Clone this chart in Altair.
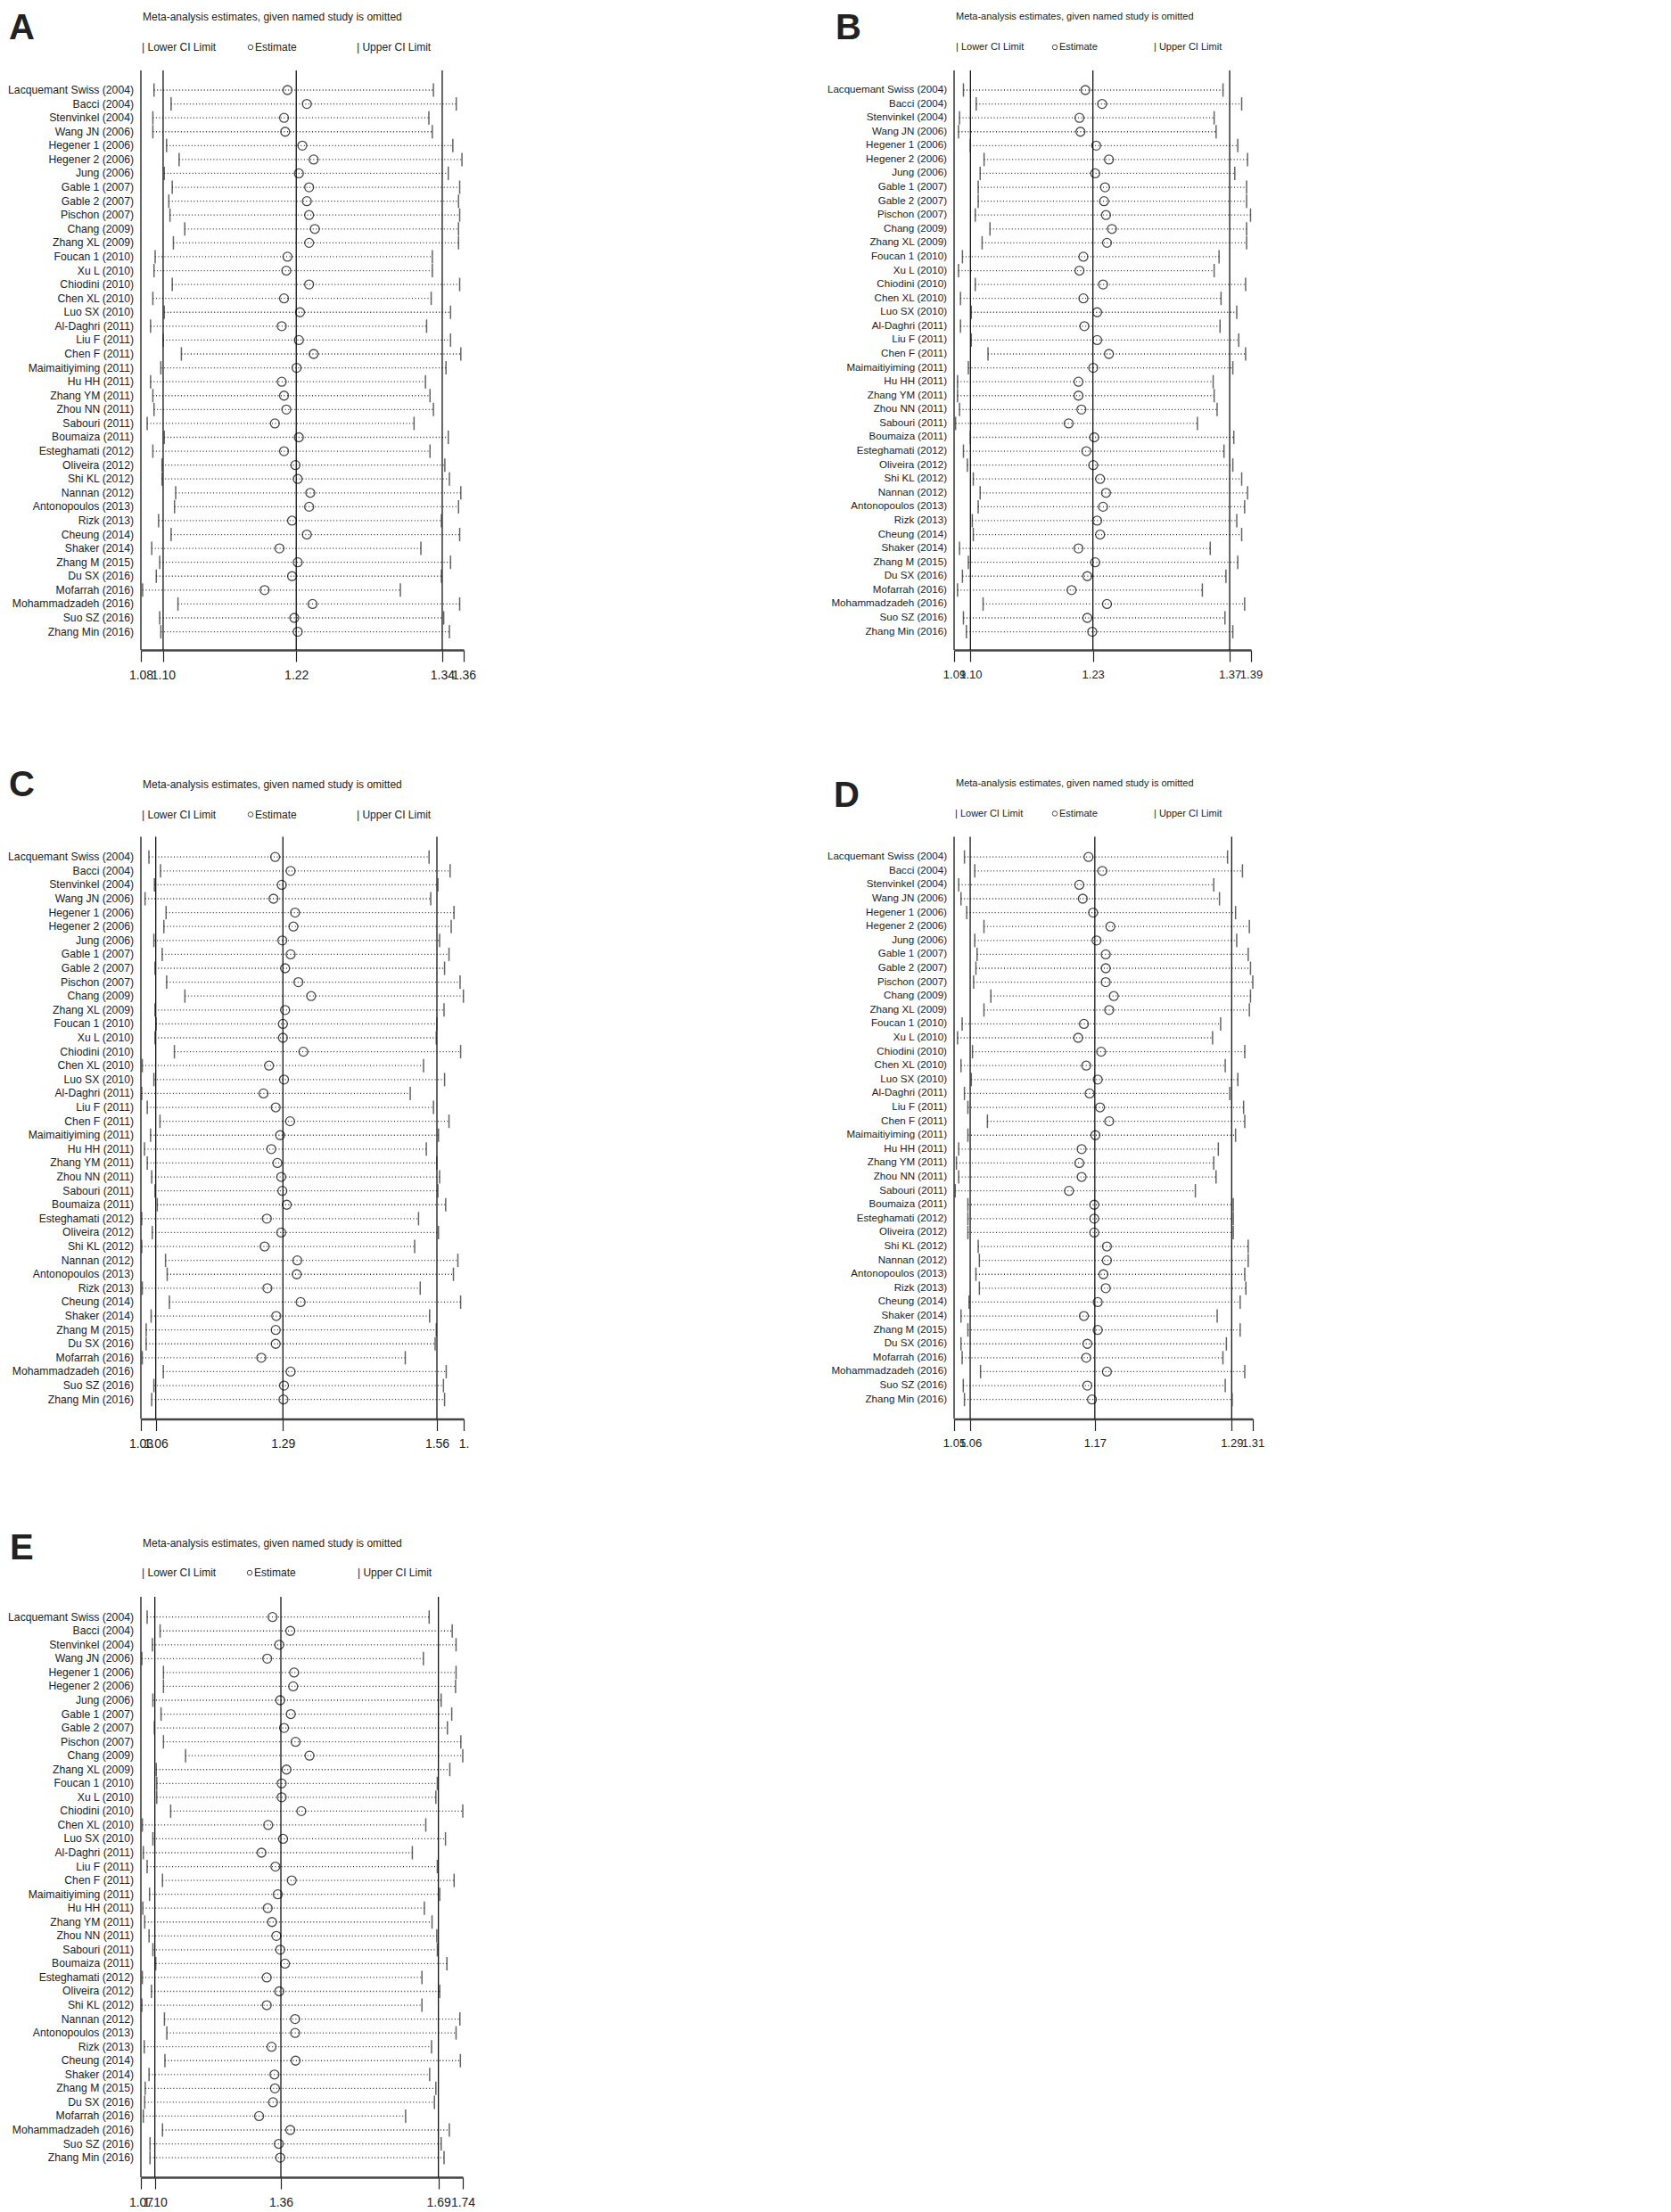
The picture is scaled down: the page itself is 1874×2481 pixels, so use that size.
import altair as alt
import pandas as pd

studies = ["Lacquemant Swiss (2004)", "Bacci (2004)", "Stenvinkel (2004)", "Wang JN (2006)",
           "Hegener 1 (2006)", "Hegener 2 (2006)", "Jung (2006)", "Gable 1 (2007)", "Gable 2 (2007)",
           "Pischon (2007)", "Chang (2009)", "Zhang XL (2009)", "Foucan 1 (2010)", "Xu L (2010)",
           "Chiodini (2010)", "Chen XL (2010)", "Luo SX (2010)", "Al-Daghri (2011)", "Liu F (2011)",
           "Chen F (2011)", "Maimaitiyiming (2011)", "Hu HH (2011)", "Zhang YM (2011)", "Zhou NN (2011)",
           "Sabouri (2011)", "Boumaiza (2011)", "Esteghamati (2012)", "Oliveira (2012)", "Shi KL (2012)",
           "Nannan (2012)", "Antonopoulos (2013)", "Rizk (2013)", "Cheung (2014)", "Shaker (2014)",
           "Zhang M (2015)", "Du SX (2016)", "Mofarrah (2016)", "Mohammadzadeh (2016)", "Suo SZ (2016)",
           "Zhang Min (2016)"]

# Panel A
A_lower = [1.091,1.106,1.090,1.090,1.102,1.113,1.100,1.107,1.104,1.105,1.118,1.108,1.092,1.091,1.107,1.090,1.100,1.088,1.099,1.115,
           1.097,1.088,1.090,1.091,1.085,1.100,1.090,1.098,1.098,1.110,1.109,1.095,1.106,1.089,1.096,1.093,1.081,1.112,1.096,1.097]
A_est = [1.208,1.225,1.205,1.206,1.221,1.231,1.218,1.227,1.225,1.227,1.232,1.227,1.208,1.207,1.227,1.205,1.219,1.203,1.218,1.231,
         1.216,1.203,1.205,1.207,1.197,1.218,1.205,1.215,1.217,1.228,1.227,1.212,1.225,1.201,1.217,1.212,1.188,1.230,1.214,1.217]
A_upper = [1.336,1.356,1.332,1.335,1.353,1.361,1.349,1.359,1.358,1.359,1.358,1.358,1.335,1.335,1.359,1.334,1.351,1.330,1.351,1.360,
           1.347,1.329,1.333,1.336,1.319,1.349,1.333,1.346,1.350,1.360,1.358,1.343,1.359,1.325,1.351,1.343,1.307,1.359,1.345,1.350]
A_axis = [1.0795, 1.0990, 1.2157, 1.3437, 1.3625]

# Panel B
B_lower = [1.095,1.108,1.091,1.090,1.102,1.116,1.112,1.110,1.110,1.107,1.122,1.114,1.094,1.090,1.107,1.092,1.103,1.092,1.103,1.120,
           1.100,1.089,1.089,1.091,1.087,1.102,1.095,1.099,1.105,1.112,1.110,1.104,1.105,1.091,1.100,1.094,1.089,1.115,1.095,1.098]
B_est = [1.219,1.236,1.213,1.214,1.230,1.243,1.229,1.239,1.238,1.240,1.246,1.241,1.217,1.213,1.237,1.217,1.231,1.218,1.231,1.243,
         1.227,1.212,1.212,1.215,1.202,1.228,1.220,1.227,1.234,1.240,1.237,1.231,1.234,1.212,1.229,1.221,1.205,1.241,1.221,1.226]
B_upper = [1.359,1.378,1.350,1.352,1.374,1.384,1.371,1.383,1.383,1.387,1.383,1.383,1.355,1.350,1.382,1.357,1.373,1.356,1.375,1.382,
           1.369,1.349,1.350,1.353,1.333,1.370,1.360,1.369,1.378,1.384,1.381,1.373,1.378,1.346,1.374,1.362,1.338,1.381,1.361,1.369]
B_axis = [1.0855, 1.1021, 1.2267, 1.3658, 1.3875]

# Panel C
C_lower = [1.044,1.065,1.054,1.037,1.075,1.071,1.053,1.068,1.055,1.076,1.109,1.055,1.057,1.055,1.090,1.032,1.053,1.031,1.041,1.064,
           1.047,1.036,1.041,1.049,1.055,1.059,1.031,1.050,1.031,1.074,1.077,1.032,1.081,1.048,1.039,1.039,1.032,1.070,1.053,1.049]
C_est = [1.272,1.300,1.284,1.269,1.308,1.305,1.285,1.300,1.290,1.314,1.337,1.290,1.286,1.286,1.323,1.261,1.288,1.251,1.273,1.299,
         1.281,1.265,1.276,1.283,1.285,1.293,1.257,1.283,1.253,1.312,1.311,1.258,1.318,1.274,1.273,1.273,1.247,1.300,1.288,1.287]
C_upper = [1.550,1.588,1.566,1.553,1.595,1.590,1.569,1.586,1.578,1.606,1.612,1.577,1.564,1.563,1.607,1.540,1.578,1.516,1.558,1.586,
           1.567,1.545,1.564,1.569,1.566,1.580,1.531,1.567,1.524,1.602,1.594,1.534,1.607,1.551,1.563,1.561,1.507,1.581,1.576,1.578]
C_axis = [1.0295, 1.0564, 1.2860, 1.5642, 1.6125]

# Panel D
D_lower = [1.059,1.068,1.054,1.056,1.061,1.076,1.068,1.070,1.069,1.067,1.082,1.076,1.057,1.053,1.066,1.056,1.065,1.059,1.062,1.079,
           1.062,1.054,1.052,1.054,1.051,1.062,1.062,1.062,1.071,1.072,1.069,1.072,1.063,1.056,1.062,1.056,1.057,1.073,1.058,1.059]
D_est = [1.167,1.179,1.159,1.162,1.171,1.186,1.174,1.182,1.182,1.182,1.189,1.185,1.163,1.158,1.178,1.165,1.175,1.168,1.177,1.185,
         1.173,1.161,1.159,1.161,1.150,1.172,1.172,1.172,1.183,1.183,1.180,1.182,1.175,1.163,1.175,1.166,1.165,1.183,1.166,1.170]
D_upper = [1.288,1.301,1.276,1.281,1.295,1.307,1.296,1.306,1.308,1.310,1.308,1.307,1.282,1.275,1.303,1.286,1.297,1.290,1.302,1.303,
           1.295,1.280,1.276,1.278,1.260,1.293,1.293,1.293,1.306,1.306,1.303,1.304,1.299,1.279,1.299,1.287,1.284,1.303,1.286,1.292]
D_axis = [1.0500, 1.0640, 1.1725, 1.2916, 1.3100]

# Panel E
E_lower = [1.083,1.110,1.094,1.072,1.117,1.117,1.095,1.112,1.098,1.117,1.163,1.102,1.103,1.103,1.132,1.073,1.095,1.075,1.083,1.115,
           1.088,1.074,1.078,1.087,1.095,1.101,1.073,1.092,1.072,1.119,1.124,1.077,1.120,1.087,1.079,1.078,1.075,1.115,1.089,1.089]
E_est = [1.344,1.381,1.358,1.333,1.389,1.387,1.360,1.382,1.368,1.392,1.421,1.373,1.363,1.363,1.404,1.335,1.366,1.321,1.350,1.384,
         1.355,1.334,1.343,1.352,1.360,1.370,1.332,1.358,1.332,1.391,1.391,1.342,1.392,1.348,1.349,1.345,1.316,1.381,1.357,1.360]
E_upper = [1.670,1.718,1.726,1.658,1.726,1.725,1.695,1.717,1.708,1.736,1.740,1.713,1.687,1.684,1.740,1.663,1.704,1.635,1.687,1.722,
           1.692,1.660,1.676,1.686,1.687,1.707,1.655,1.692,1.655,1.734,1.726,1.675,1.735,1.671,1.684,1.681,1.621,1.712,1.695,1.701]
E_axis = [1.0700, 1.0991, 1.3614, 1.6893, 1.7400]

FONT = "Liberation Sans, Arial, sans-serif"
TITLE = "Meta-analysis estimates, given named study is omitted"
INK = "#222222"


def note(text, x, y, size, align="left", baseline="middle", weight="normal"):
    return alt.Chart(pd.DataFrame({"t": [text]})).mark_text(
        align=align, baseline=baseline, font=FONT, fontSize=size, fontWeight=weight, color=INK
    ).encode(x=alt.value(x), y=alt.value(y), text="t:N")


def panel(letter, lower, est, upper, axis_vals, w, h, top, ydom, fs, tfs, afs, leg,
          letter_x, letter_y, title_y, leg_y, label_expr):
    df = pd.DataFrame({"study": studies, "row": list(range(len(studies))),
                       "lower": lower, "est": est, "upper": upper})
    xs = alt.Scale(domain=[axis_vals[0], axis_vals[-1]], nice=False, zero=False)
    ys = alt.Scale(domain=ydom, reverse=True, nice=False, zero=False)
    xax = alt.Axis(values=axis_vals, labelExpr=label_expr, title=None, grid=False,
                   tickSize=13, tickColor=INK, tickWidth=1.2, domainColor="#444444",
                   domainWidth=2.5, labelFont=FONT, labelFontSize=afs, labelColor=INK,
                   labelPadding=8, labelOverlap=False, labelFlush=False, labelBound=False)

    def X(f):
        return alt.X(f, type="quantitative", scale=xs, axis=xax)

    Y = alt.Y("row:Q", scale=ys, axis=None)
    base = alt.Chart(df)
    dots = base.mark_rule(strokeDash=[1, 2.5], color="#333333", strokeWidth=1.3).encode(
        x=X("lower"), x2="upper:Q", y=Y)
    lo = base.mark_tick(orient="vertical", size=15, thickness=1.5, color=INK).encode(x=X("lower"), y=Y)
    up = base.mark_tick(orient="vertical", size=15, thickness=1.5, color=INK).encode(x=X("upper"), y=Y)
    pts = base.mark_point(shape="circle", filled=False, size=100, color="black", strokeWidth=1.3).encode(
        x=X("est"), y=Y)
    labels = base.mark_text(align="right", baseline="middle", font=FONT, fontSize=fs, color=INK).encode(
        x=alt.value(-8), y=Y, text="study:N")
    refs = alt.Chart(pd.DataFrame({"v": axis_vals[:4]})).mark_rule(color="black", strokeWidth=1.2).encode(
        x=X("v"), y=alt.value(top), y2=alt.value(h))
    legend_pt = alt.Chart(pd.DataFrame({"t": [0]})).mark_point(
        shape="circle", filled=False, size=30, color="black", strokeWidth=1).encode(
        x=alt.value(leg[1]), y=alt.value(top + leg_y))
    texts = [
        note(letter, letter_x, top + letter_y, 40, baseline="middle", weight="bold"),
        note(TITLE, 2, top + title_y, tfs),
        note("| Lower CI Limit", leg[0], top + leg_y, tfs),
        note("Estimate", leg[2], top + leg_y, tfs),
        note("| Upper CI Limit", leg[3], top + leg_y, tfs),
    ]
    return alt.layer(dots, refs, lo, up, pts, labels, legend_pt, *texts).properties(width=w, height=h)


fmt = "format(datum.value, '.2f')"
pA = panel("A", A_lower, A_est, A_upper, A_axis, 362, 650, 0, [-1.412, 40.31], 12.2, 12, 14,
           (1, 123, 128, 242), -148, -47, -60, -26, fmt)
pB = panel("B", B_lower, B_est, B_upper, B_axis, 333, 650, 0, [-1.412, 40.31], 11.6, 11, 13,
           (2, 113, 118, 224), -133, -47, -60, -26, fmt)
pC = panel("C", C_lower, C_est, C_upper, C_axis, 362, 663, 10, [-2.096, 40.40], 12.2, 12, 14,
           (1, 123, 128, 242), -148, -58, -59, -25,
           "datum.value > 1.6 ? '1.' : format(datum.value, '.2f')")
pD = panel("D", D_lower, D_est, D_upper, D_axis, 335, 663, 10, [-2.096, 40.40], 11.6, 11, 13,
           (1, 113, 118, 224), -135, -46, -60, -26, fmt)
pE = panel("E", E_lower, E_est, E_upper, E_axis, 361, 651, 0, [-1.460, 40.41], 12.2, 12, 14,
           (1, 122, 127, 243), -147, -54, -60, -27, fmt)

chart = alt.concat(pA, pB, pC, pD, pE, columns=2, spacing={"row": 199.5, "column": 550},
                   bounds="flush").properties(
    padding={"left": 1, "top": 4, "right": 2, "bottom": 2}).configure_view(stroke=None)

chart.save("out.html", embed_options={"renderer": "svg", "actions": False})
